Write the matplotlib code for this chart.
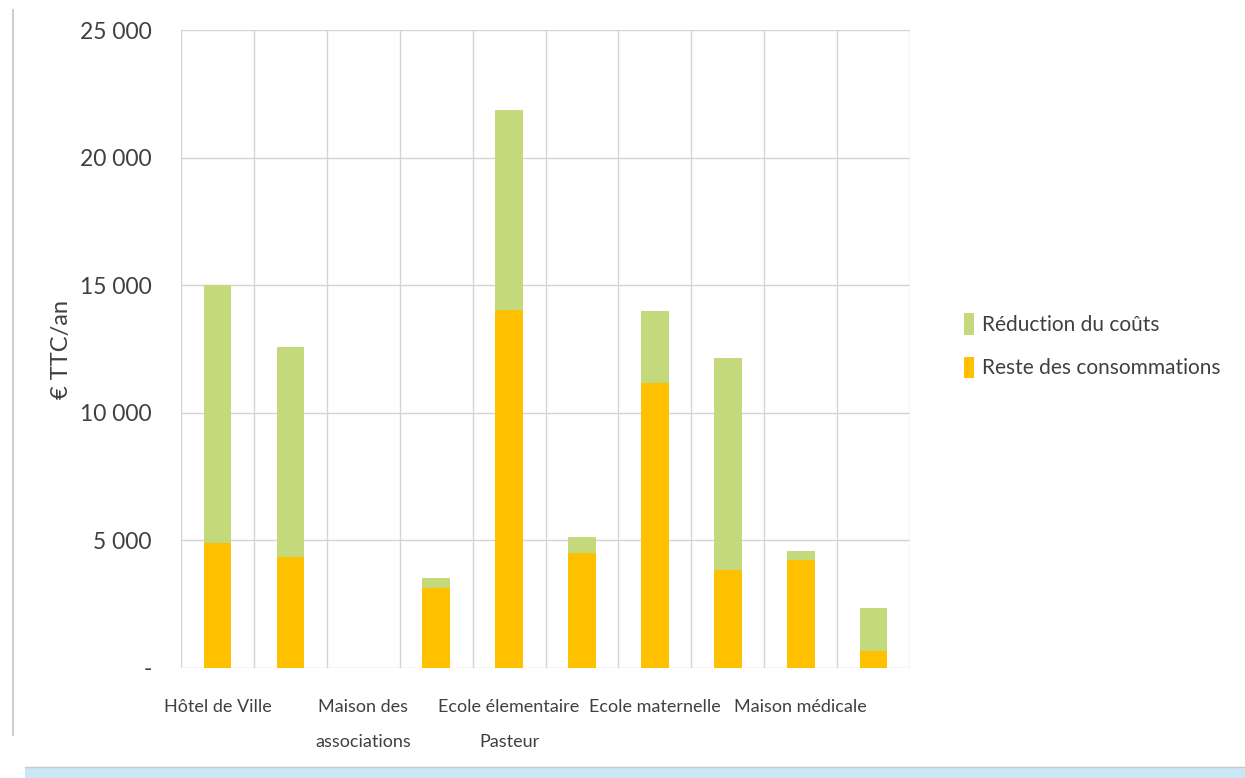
import numpy as np
import matplotlib
matplotlib.use("Agg")
import matplotlib.pyplot as plt
import matplotlib.patches as patch

plt.rcParams['font.family'] = ['Lato', 'DejaVu Sans']

# data (EUR TTC / an)
batiments = ["Hôtel de Ville", "", "Maison des\nassociations", "", "Ecole élementaire\nPasteur",
             "", "Ecole maternelle", "", "Maison médicale", ""]
reste_conso = [4900, 4350, 0, 3140, 14040, 4500, 11170, 3840, 4250, 650]
reduction = [10100, 8230, 0, 390, 7840, 640, 2830, 8320, 350, 1700]

yticks = [0, 5000, 10000, 15000, 20000, 25000]
ytick_labels = ["-", "5 000", "10 000", "15 000", "20 000", "25 000"]

c_orange = "#ffc000"
c_green = "#c4d97c"
c_grid = "#d4d4d4"
c_text = "#404040"

fig = plt.figure(figsize=(12.45, 7.78), dpi=100)
ax = fig.add_axes([0.1454, 0.1414, 0.5856, 0.82])

x = np.arange(len(batiments))
ax.bar(x, reste_conso, width=0.38, color=c_orange, label="Reste des consommations", zorder=3)
ax.bar(x, reduction, width=0.38, bottom=reste_conso, color=c_green, label="Réduction du coûts", zorder=3)

ax.set_xlim(-0.5, len(batiments) - 0.5)
ax.set_ylim(0, 25000)
ax.set_yticks(yticks)
ax.set_yticklabels(ytick_labels, fontsize=16.5, color=c_text)
ax.set_xticks(x)
ax.set_xticklabels(batiments, fontsize=13, color=c_text, linespacing=2.5)
ax.tick_params(axis="both", length=0)
ax.tick_params(axis="y", pad=21)
ax.tick_params(axis="x", pad=22)

# grid: horizontal at ticks, vertical at category boundaries
ax.yaxis.grid(True, color=c_grid, lw=1, zorder=0)
for b in np.arange(-0.5, len(batiments), 1.0):
    ax.axvline(b, color=c_grid, lw=1, zorder=0)

for s in ["top", "right", "left", "bottom"]:
    ax.spines[s].set_visible(False)

ax.set_ylabel("€ TTC/an", fontsize=17, color=c_text, labelpad=6)

handles, labels = ax.get_legend_handles_labels()
ax.legend(handles[::-1], labels[::-1], loc="center left", bbox_to_anchor=(1.048, 0.505),
          frameon=False, fontsize=15, handlelength=0.5, handleheight=1.2, handletextpad=0.35,
          labelspacing=1.05, labelcolor=c_text)

# frame decorations of the screenshot
fig.add_artist(plt.Line2D([13 / 1245, 13 / 1245], [1 - 735 / 778, 1 - 10 / 778],
                          color="#d0d0d0", lw=1.5))
fig.add_artist(patch.Rectangle((0.02, 0), 0.98, 11 / 778, transform=fig.transFigure,
                               facecolor="#cbe7f6", edgecolor="none"))
fig.add_artist(plt.Line2D([0.02, 1], [11 / 778, 11 / 778], color="#c8c8c8", lw=1))

plt.savefig("out.png", dpi=100)
